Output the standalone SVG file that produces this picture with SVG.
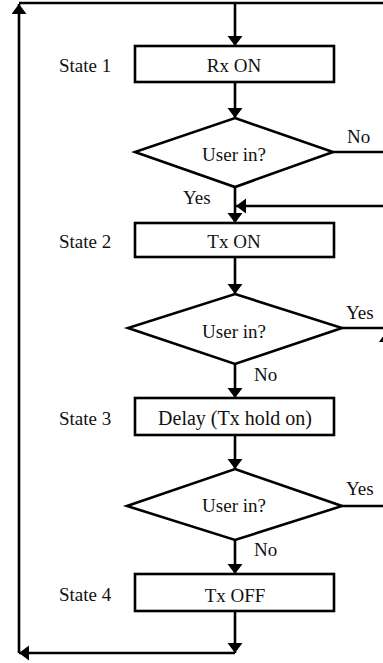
<svg xmlns="http://www.w3.org/2000/svg" width="383" height="663" viewBox="0 0 383 663">
<style>
.box{fill:#fff;stroke:#000;stroke-width:2.6}
.ln{fill:none;stroke:#000;stroke-width:2.6}
text{font-family:"Liberation Serif","Times New Roman",serif;font-size:19px;fill:#111}
.c{text-anchor:middle}
</style>
<defs>
<marker id="ah" markerUnits="userSpaceOnUse" markerWidth="12" markerHeight="16" refX="10" refY="7.5" orient="auto">
<path d="M0,0 L10,7.5 L0,15 z" fill="#000"/>
</marker>
</defs>
<g id="connectors">
<polyline class="ln" points="235,653 19,653" marker-end="url(#ah)"/>
<polyline class="ln" points="19,653 19,4" marker-end="url(#ah)"/>
<line class="ln" x1="19" y1="3" x2="383" y2="3"/>
<line class="ln" x1="235" y1="3" x2="235" y2="46" marker-end="url(#ah)"/>
<line class="ln" x1="235" y1="82" x2="235" y2="118" marker-end="url(#ah)"/>
<line class="ln" x1="333" y1="152" x2="383" y2="152"/>
<line class="ln" x1="235" y1="187" x2="235" y2="223" marker-end="url(#ah)"/>
<line class="ln" x1="383" y1="206" x2="236" y2="206" marker-end="url(#ah)"/>
<line class="ln" x1="235" y1="257" x2="235" y2="294" marker-end="url(#ah)"/>
<line class="ln" x1="342" y1="328" x2="383" y2="328"/>
<polygon points="388,329 379,342 397,342" fill="#000"/>
<line class="ln" x1="235" y1="364" x2="235" y2="398" marker-end="url(#ah)"/>
<line class="ln" x1="235" y1="435" x2="235" y2="469" marker-end="url(#ah)"/>
<line class="ln" x1="342" y1="506" x2="383" y2="506"/>
<line class="ln" x1="235" y1="540" x2="235" y2="574" marker-end="url(#ah)"/>
<line class="ln" x1="235" y1="611" x2="235" y2="653" marker-end="url(#ah)"/>
</g>
<g id="state1">
<rect class="box" x="135" y="46" width="199" height="36"/>
<text class="c" x="234" y="72">Rx ON</text>
<text x="59" y="72">State 1</text>
</g>
<g id="decision1">
<polygon class="box" points="235,118 333,152 235,187 135,152"/>
<text class="c" x="234" y="161">User in?</text>
<text x="347" y="143">No</text>
<text x="183" y="204">Yes</text>
</g>
<g id="state2">
<rect class="box" x="135" y="223" width="199" height="34"/>
<text class="c" x="234" y="248">Tx ON</text>
<text x="59" y="248">State 2</text>
</g>
<g id="decision2">
<polygon class="box" points="235,294 342,328 235,364 128,328"/>
<text class="c" x="234" y="338">User in?</text>
<text x="346" y="319">Yes</text>
<text x="254" y="381">No</text>
</g>
<g id="state3">
<rect class="box" x="135" y="398" width="199" height="37"/>
<text class="c" x="235" y="425" style="font-size:20px">Delay (Tx hold on)</text>
<text x="59" y="425">State 3</text>
</g>
<g id="decision3">
<polygon class="box" points="235,469 342,506 235,540 127,506"/>
<text class="c" x="234" y="512">User in?</text>
<text x="346" y="495">Yes</text>
<text x="254" y="556">No</text>
</g>
<g id="state4">
<rect class="box" x="135" y="574" width="199" height="37"/>
<text class="c" x="235" y="602">Tx OFF</text>
<text x="59" y="601">State 4</text>
</g>
</svg>
